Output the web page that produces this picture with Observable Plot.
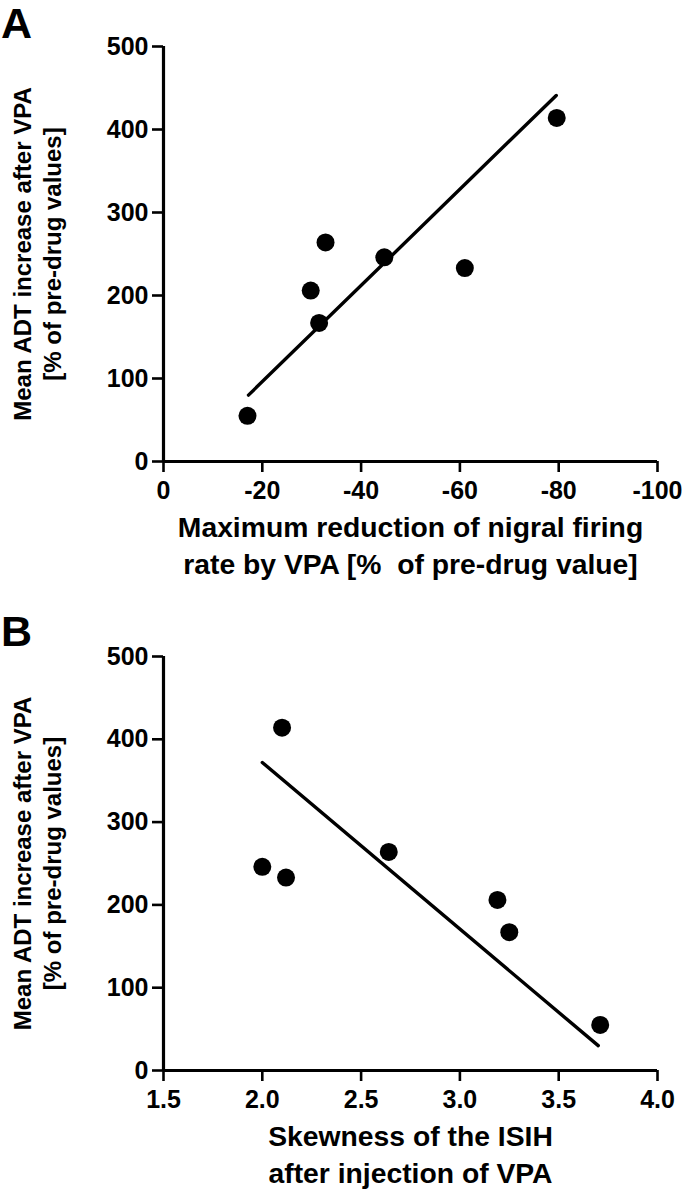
<!DOCTYPE html>
<html>
<head>
<meta charset="utf-8">
<script src="https://cdn.jsdelivr.net/npm/d3@7"></script>
<script src="https://cdn.jsdelivr.net/npm/@observablehq/plot@0.6"></script>
<style>
  html, body { margin: 0; padding: 0; background: #fff; }
  #wrap { position: relative; width: 686px; height: 1199px; overflow: hidden; font-family: "Liberation Sans", Arial, sans-serif; }
  .panel { position: absolute; left: 0; z-index: 1; }
  .tag { position: absolute; left: 1px; z-index: 2; font-weight: bold; font-size: 43px; line-height: 1.1; color: #000; }
  svg text { font-family: "Liberation Sans", Arial, sans-serif; }
</style>
</head>
<body>
<div id="wrap">
  <div id="pa" class="panel" style="top:0"></div>
  <div id="pb" class="panel" style="top:600px"></div>
  <div class="tag" style="top:0px">A</div>
  <div class="tag" style="top:608px">B</div>
</div>
<script>
// ---- data ----
const adtIncrease = [55, 167, 206, 233, 246, 264, 414];          // y values (% of pre-drug)
const firingReduction = [-17, -31.5, -29.8, -61, -44.7, -32.8, -79.6]; // panel A x
const skewness = [3.71, 3.25, 3.19, 2.12, 2.0, 2.64, 2.1];         // panel B x
const fitA_x = [-17.2, -79.5];
const fitA_y = [80, 441];
const fitB_x = [2.0, 3.7];
const fitB_y = [372, 30];
const yTicks = [0, 100, 200, 300, 400, 500];
const xTicksA = [0, -20, -40, -60, -80, -100];
const xTicksB = [1.5, 2.0, 2.5, 3.0, 3.5, 4.0];
const yTitle = "Mean ADT increase after VPA\n[% of pre-drug values]";
const xTitleA = "Maximum reduction of nigral firing\nrate by VPA [%  of pre-drug value]";
const xTitleB = "Skewness of the ISIH\nafter injection of VPA";

const ptsA = adtIncrease.map((y, i) => ({x: firingReduction[i], y}));
const ptsB = adtIncrease.map((y, i) => ({x: skewness[i], y}));
const lineA = fitA_x.map((x, i) => ({x, y: fitA_y[i]}));
const lineB = fitB_x.map((x, i) => ({x, y: fitB_y[i]}));

function panel({pts, line, xDomain, xTicks, xFmt, xTitle, height, marginTop, marginBottom}) {
  return Plot.plot({
    width: 686,
    height,
    marginLeft: 163,
    marginRight: 29,
    marginTop,
    marginBottom,
    style: {fontFamily: "Liberation Sans, Arial, sans-serif", background: "transparent", color: "#000", overflow: "visible"},
    x: {domain: xDomain},
    y: {domain: [0, 500]},
    marks: [
      Plot.axisY({ticks: yTicks, tickSize: 11, tickPadding: 4, strokeWidth: 2.6, fontSize: 25, fontWeight: "bold", label: null, tickFormat: d => String(d)}),
      Plot.axisX({ticks: xTicks, tickSize: 11, tickPadding: 9, strokeWidth: 2.6, fontSize: 25, fontWeight: "bold", label: null, tickFormat: xFmt}),
      Plot.ruleY([0], {stroke: "#000", strokeWidth: 3.2, x1: xDomain[0], x2: xDomain[1]}),
      Plot.ruleX([xDomain[0]], {stroke: "#000", strokeWidth: 3.2, y1: 0, y2: 500}),
      Plot.line(line, {x: "x", y: "y", stroke: "#000", strokeWidth: 3.4}),
      Plot.dot(pts, {x: "x", y: "y", r: 9, fill: "#000", stroke: "none"}),
      Plot.text([yTitle], {frameAnchor: "left", rotate: -90, dx: -127, fontSize: 24, fontWeight: "bold", lineHeight: 1.25, textAnchor: "middle", lineAnchor: "middle", fill: "#000"}),
      Plot.text([xTitle], {frameAnchor: "bottom", dy: 82, fontSize: 28.3, fontWeight: "bold", lineHeight: 1.32, textAnchor: "middle", lineAnchor: "middle", fill: "#000"})
    ]
  });
}

document.getElementById("pa").appendChild(panel({
  pts: ptsA, line: lineA, xDomain: [0, -100], xTicks: xTicksA, xFmt: d => String(d),
  xTitle: xTitleA, height: 600, marginTop: 46, marginBottom: 139
}));
document.getElementById("pb").appendChild(panel({
  pts: ptsB, line: lineB, xDomain: [1.5, 4.0], xTicks: xTicksB, xFmt: d => d.toFixed(1),
  xTitle: xTitleB, height: 599, marginTop: 56, marginBottom: 129
}));
</script>
</body>
</html>
